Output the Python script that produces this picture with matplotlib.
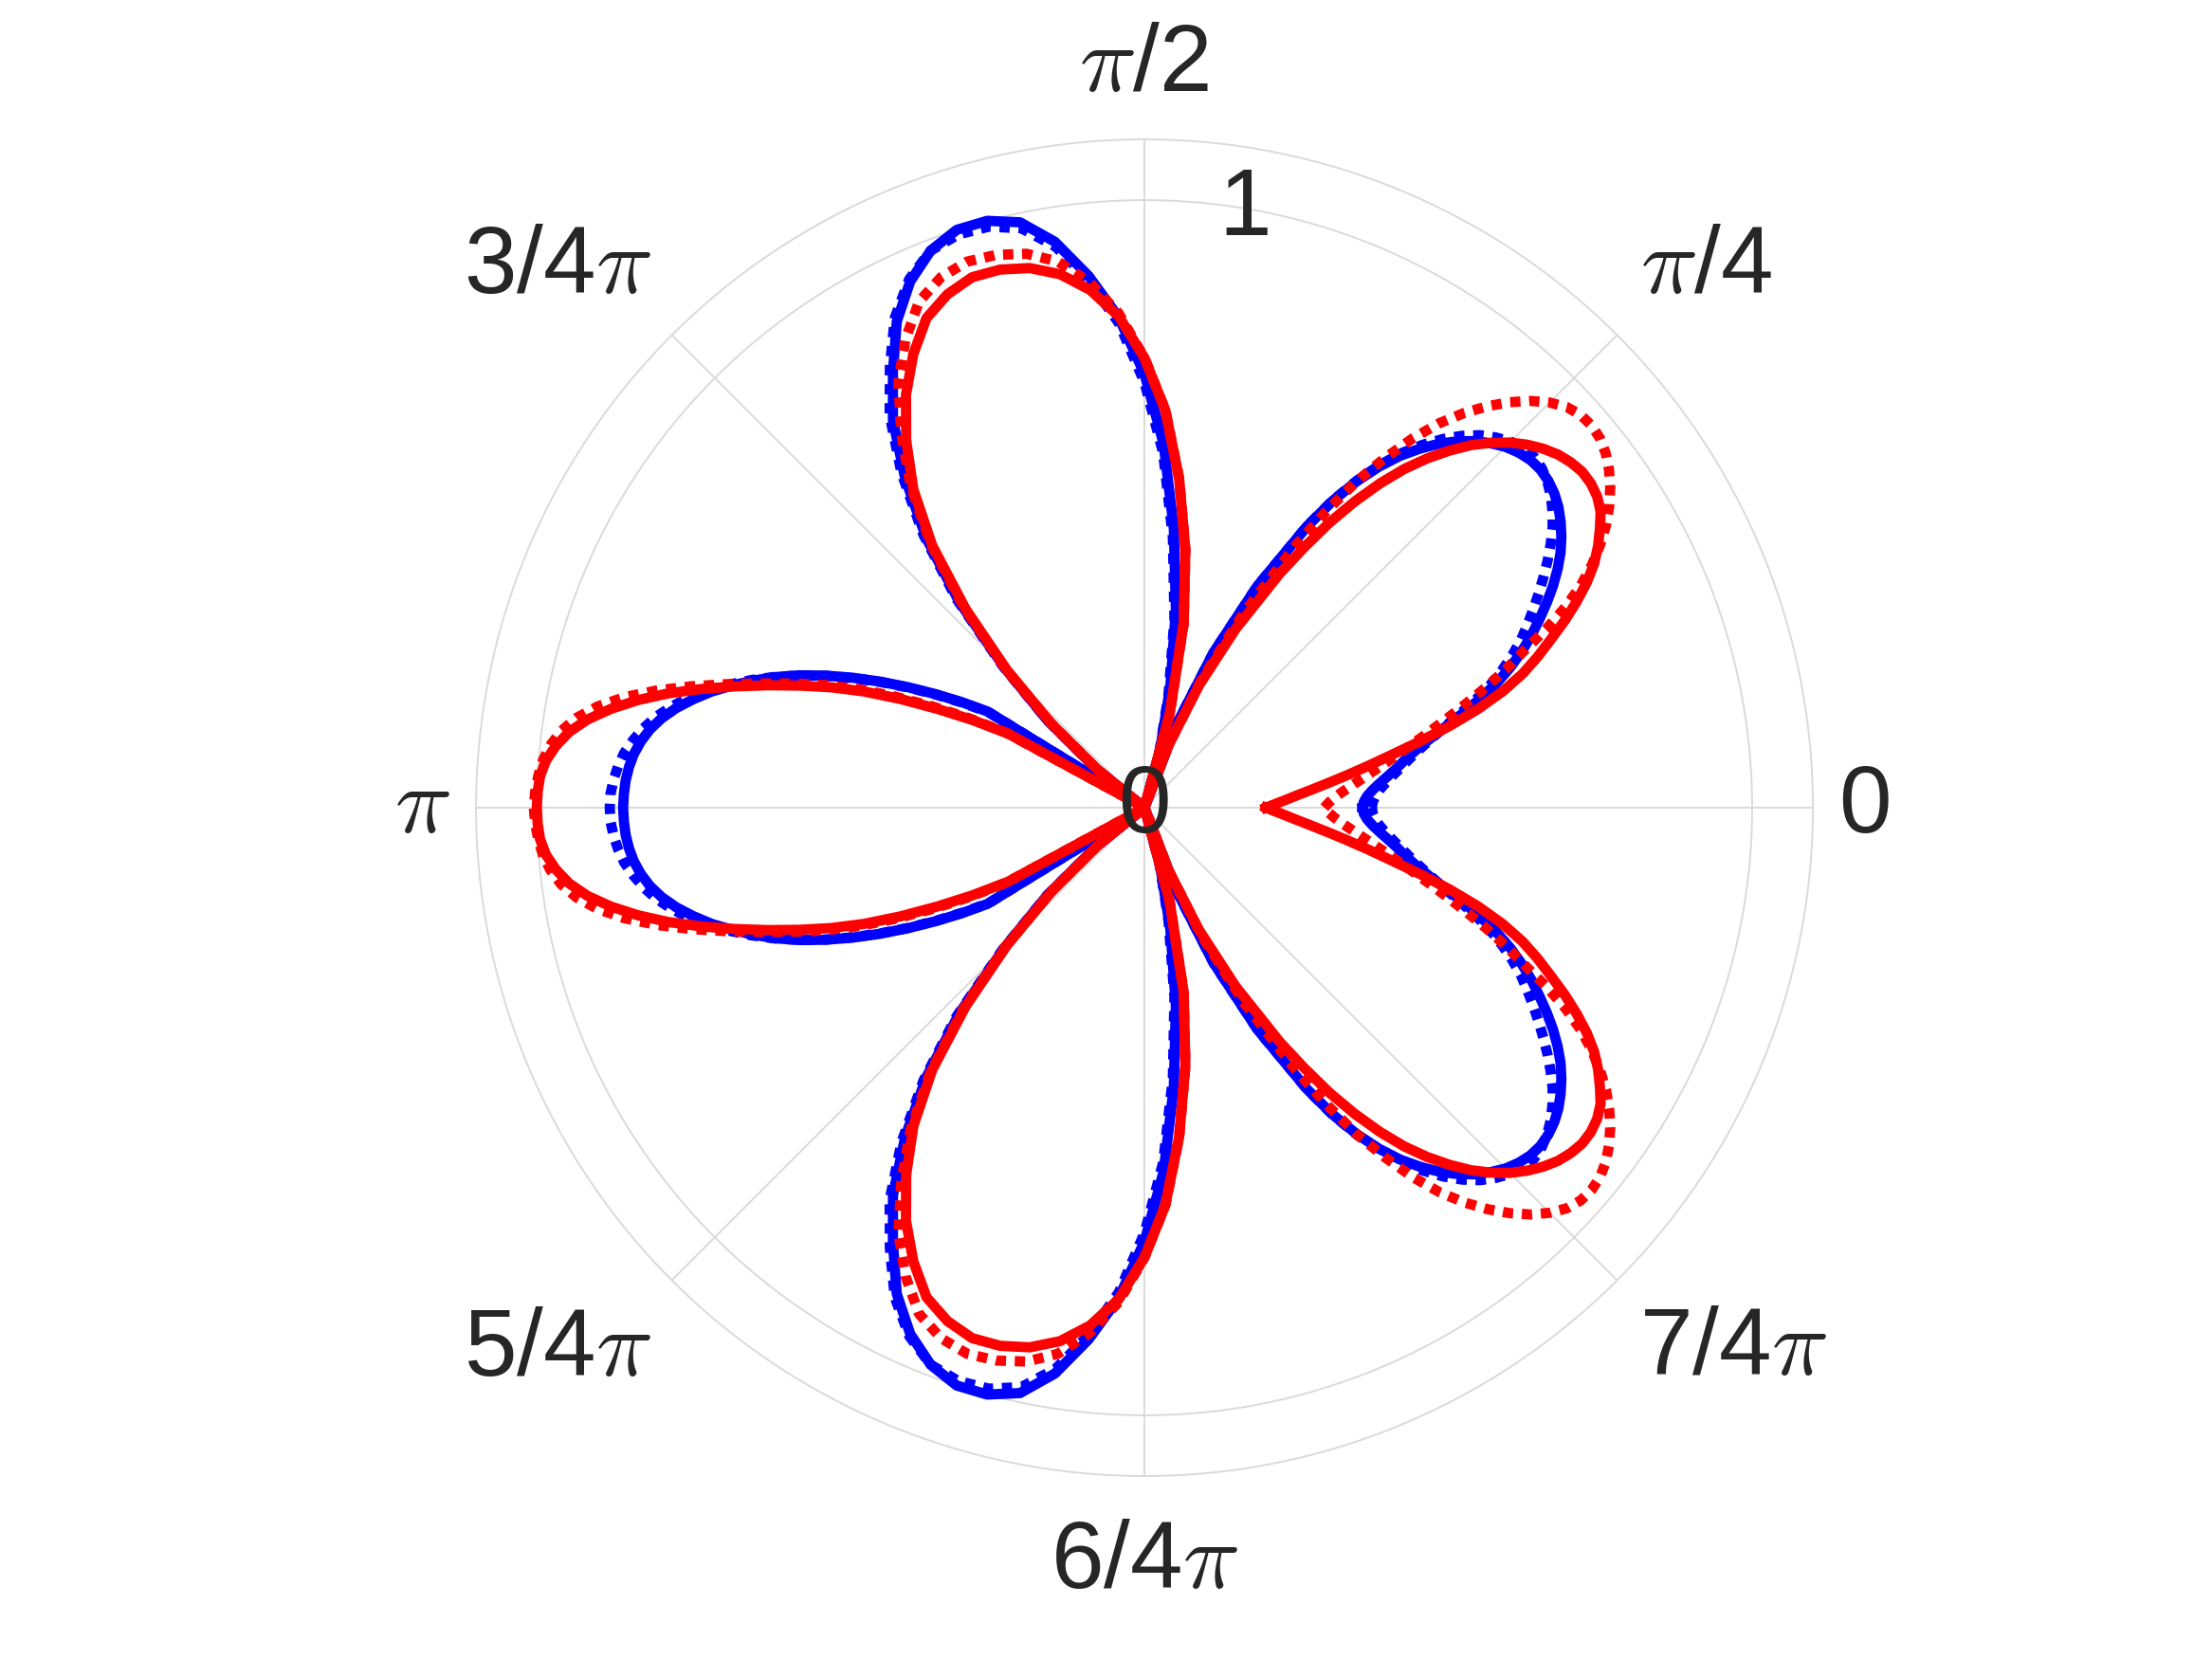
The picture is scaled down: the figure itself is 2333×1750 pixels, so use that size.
import numpy as np
import matplotlib
matplotlib.use('Agg')
import matplotlib.pyplot as plt

plt.rcParams['font.family'] = ['Liberation Sans', 'DejaVu Sans']
plt.rcParams['mathtext.fontset'] = 'cm'

# sample angles (deg) from 0 to 180; the pattern is mirrored about the 0-pi axis
# finer steps on the right and left lobes, coarser on the upper lobe
theta_half = np.concatenate([np.arange(0, 60.1, 1.5),
                             np.arange(63, 144.1, 3),
                             np.arange(145.5, 180.1, 1.5)])

# values; rows: 0-60 (1.5 step), 63-144 (3 step), 145.5-180 (1.5 step)
blue_solid = [0.359, 0.361, 0.367, 0.377, 0.390, 0.405, 0.421, 0.437, 0.457, 0.482,
              0.512, 0.546, 0.581, 0.615, 0.645, 0.672, 0.697, 0.720, 0.743, 0.765,
              0.785, 0.803, 0.818, 0.831, 0.842, 0.850, 0.855, 0.857, 0.855, 0.849,
              0.840, 0.827, 0.812, 0.793, 0.771, 0.745, 0.716, 0.681, 0.640, 0.592,
              0.535,
              0.410, 0.280, 0.145, 0.0, 0.100, 0.205, 0.330, 0.462, 0.600, 0.714,
              0.808, 0.880, 0.943, 0.985, 1.000, 1.000, 0.982, 0.948, 0.898, 0.828,
              0.760, 0.670, 0.570, 0.455, 0.325, 0.215, 0.105, 0.0,
              0.0, 0.0, 0.303, 0.348, 0.392, 0.437, 0.482, 0.526, 0.568, 0.608,
              0.644, 0.677, 0.708, 0.738, 0.764, 0.788, 0.808, 0.824, 0.836, 0.845,
              0.851, 0.855, 0.857, 0.858]

blue_dotted = [0.374, 0.376, 0.381, 0.389, 0.400, 0.413, 0.428, 0.444, 0.463, 0.485,
               0.510, 0.540, 0.572, 0.603, 0.630, 0.655, 0.678, 0.698, 0.718, 0.738,
               0.758, 0.778, 0.797, 0.815, 0.830, 0.843, 0.853, 0.860, 0.863, 0.860,
               0.852, 0.840, 0.825, 0.805, 0.781, 0.753, 0.722, 0.685, 0.642, 0.593,
               0.535,
               0.410, 0.280, 0.145, 0.0, 0.095, 0.190, 0.315, 0.447, 0.585, 0.700,
               0.798, 0.872, 0.935, 0.975, 0.990, 0.992, 0.982, 0.952, 0.905, 0.838,
               0.770, 0.680, 0.578, 0.462, 0.330, 0.215, 0.105, 0.0,
               0.0, 0.0, 0.300, 0.345, 0.390, 0.435, 0.480, 0.524, 0.567, 0.607,
               0.645, 0.680, 0.713, 0.745, 0.773, 0.797, 0.818, 0.835, 0.849, 0.861,
               0.869, 0.875, 0.879, 0.880]

red_solid = [0.200, 0.214, 0.231, 0.250, 0.274, 0.302, 0.335, 0.372, 0.414, 0.465,
             0.520, 0.573, 0.620, 0.660, 0.693, 0.724, 0.757, 0.788, 0.817, 0.842,
             0.862, 0.879, 0.895, 0.904, 0.908, 0.908, 0.903, 0.895, 0.883, 0.868,
             0.850, 0.828, 0.803, 0.773, 0.740, 0.703, 0.660, 0.612, 0.560, 0.502,
             0.445,
             0.330, 0.220, 0.110, 0.0, 0.160, 0.310, 0.430, 0.545, 0.655, 0.740,
             0.810, 0.857, 0.889, 0.908, 0.917, 0.918, 0.905, 0.882, 0.838, 0.785,
             0.720, 0.647, 0.555, 0.440, 0.320, 0.205, 0.100, 0.0,
             0.0, 0.0, 0.0, 0.0, 0.255, 0.318, 0.378, 0.440, 0.500, 0.553,
             0.602, 0.652, 0.703, 0.755, 0.806, 0.852, 0.893, 0.928, 0.955, 0.974,
             0.988, 0.996, 0.999, 1.000]

red_dotted = [0.296, 0.303, 0.313, 0.326, 0.342, 0.360, 0.380, 0.403, 0.428, 0.456,
              0.487, 0.521, 0.558, 0.598, 0.638, 0.677, 0.724, 0.768, 0.806, 0.838,
              0.866, 0.891, 0.912, 0.930, 0.945, 0.957, 0.965, 0.968, 0.966, 0.958,
              0.943, 0.923, 0.898, 0.869, 0.836, 0.798, 0.752, 0.698, 0.640, 0.572,
              0.500,
              0.360, 0.230, 0.110, 0.0, 0.160, 0.310, 0.430, 0.545, 0.655, 0.740,
              0.815, 0.870, 0.910, 0.932, 0.942, 0.945, 0.935, 0.912, 0.866, 0.810,
              0.735, 0.655, 0.560, 0.445, 0.325, 0.207, 0.100, 0.0,
              0.0, 0.0, 0.0, 0.0, 0.260, 0.325, 0.388, 0.450, 0.510, 0.563,
              0.612, 0.662, 0.716, 0.772, 0.826, 0.875, 0.915, 0.946, 0.968, 0.983,
              0.993, 0.999, 1.003, 1.005]

tick_deg = [0, 45, 90, 135, 180, 225, 270, 315]
tick_labels = ['0', r'$\pi$/4', r'$\pi$/2', r'3/4$\pi$', r'$\pi$',
               r'5/4$\pi$', r'6/4$\pi$', r'7/4$\pi$']


def full_circle(vals):
    v = np.asarray(vals, dtype=float)
    return np.concatenate([v, v[-2::-1]])


th = np.asarray(theta_half, dtype=float)
theta = np.deg2rad(np.concatenate([th, 360 - th[-2::-1]]))

fig = plt.figure(figsize=(23.33, 17.5), dpi=100)
ax = fig.add_axes([0.2152, 0.1103, 0.6044, 0.8057], projection='polar')

grid_c = '#dadada'
text_c = '#262626'
lw = 7.8
dots = (1.0, 0.85)

ax.plot(theta, full_circle(blue_solid), color='#0000ff', lw=lw, solid_joinstyle='round')
ax.plot(theta, full_circle(blue_dotted), color='#0000ff', lw=lw,
        dashes=dots, dash_capstyle='butt')
ax.plot(theta, full_circle(red_solid), color='#ff0000', lw=lw, solid_joinstyle='round')
ax.plot(theta, full_circle(red_dotted), color='#ff0000', lw=lw,
        dashes=dots, dash_capstyle='butt')

ax.set_rlim(0, 1.1)
ax.set_rticks([1])
ax.set_yticklabels([])
ax.set_xticks(np.deg2rad(tick_deg))
ax.set_xticklabels([])
ax.tick_params(length=0)
ax.grid(True, color=grid_c, lw=1.4)
ax.spines['polar'].set_color(grid_c)
ax.spines['polar'].set_linewidth(1.4)
ax.set_axisbelow(True)

# theta labels placed like the original
label_pos = [(0, 1.186), (43.8, 1.282), (90, 1.22), (137.4, 1.312),
             (180, 1.189), (222.8, 1.316), (270, 1.243), (317.3, 1.317)]
for (a, r), lab in zip(label_pos, tick_labels):
    ax.text(np.deg2rad(a), r, lab, fontsize=72, color=text_c,
            ha='center', va='center', clip_on=False)

# r labels
ax.text(np.deg2rad(80.4), 0.997, '1', fontsize=72, color=text_c,
        ha='center', va='center')
ax.text(0, 0, '0', fontsize=72, color=text_c, ha='center', va='center')

plt.savefig('out.png', dpi=100)
